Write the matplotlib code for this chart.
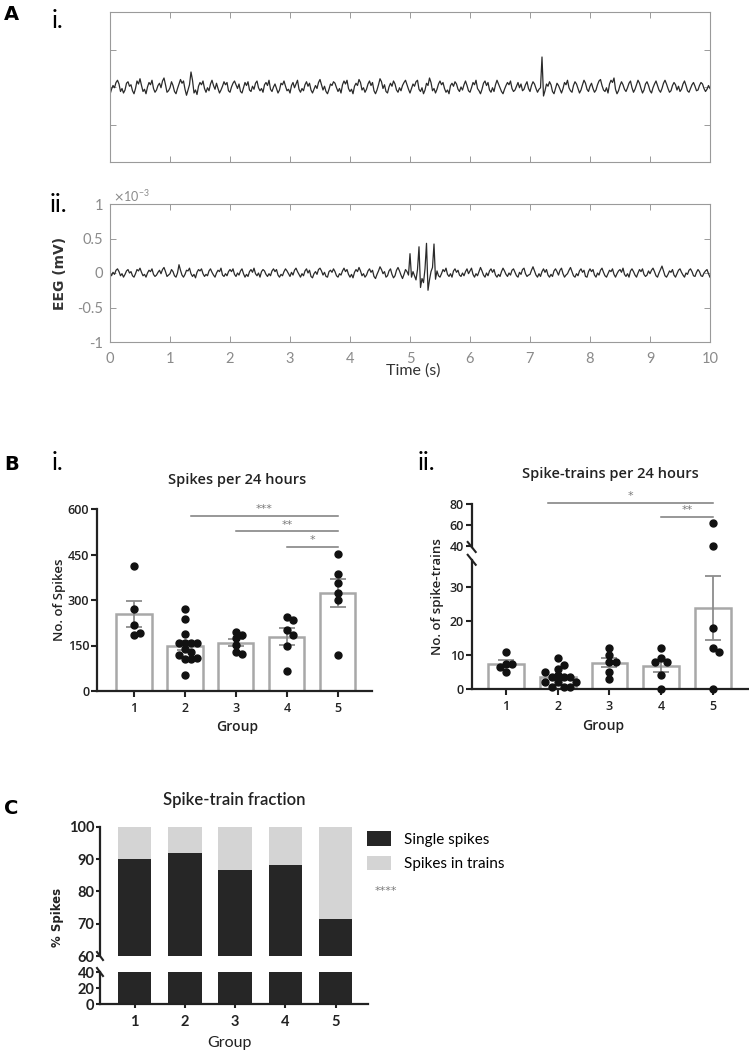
import numpy as np
import matplotlib
matplotlib.use("Agg")
import matplotlib.pyplot as plt
from matplotlib.patches import Patch

# ---------------- data ----------------
eeg_step = 0.025  # seconds per sample
# EEG traces, amplitude in units of 0.01 x 1e-3 mV
trace_i = [
    -10, -3, 2, -1, 6, 9, 4, -6, -2, -8, -4, 5, 7, 1, 3, -5, -9, -2, 8, 4,
    11, 2, -6, -3, -9, 0, 6, 3, 9, -2, -7, -4, 2, 5, -1, 8, 12, 3, -7, -5,
    -1, 7, 2, -6, -9, -2, 4, 10, 5, 8, -3, -11, -4, 3, 20, 9, -8, -4, -10, 1,
    6, 3, 8, -2, -7, -1, -5, 4, 9, 2, -3, 5, -2, -8, -4, 1, 7, 3, 6, -5,
    -7, 0, 5, 8, 3, -2, 4, -6, -8, -1, 6, 2, 7, -4, -6, 1, -3, 5, 8, -1,
    -5, -2, -7, 3, 6, 2, 9, -3, -6, 0, 4, -2, -8, -4, 5, 3, 8, 1, -5, -3,
    -8, 2, 6, -1, 4, 9, -3, -7, -2, -5, 3, 7, 1, 5, -4, -8, -3, 2, -2, 6,
    10, 3, -4, 1, -6, -9, -3, 4, 2, 7, 5, -1, -6, -2, -8, 3, 8, 4, 9, -2,
    -6, -3, -9, 1, 5, 2, 10, 6, -4, -1, -7, -3, 4, 8, 2, 6, -5, -9, -4, 3,
    11, 7, -2, 3, -6, -8, 0, 5, 1, 8, 4, -4, -7, -1, -5, 2, 6, 9, 3, -3,
    -8, -2, 4, 1, 7, 9, -3, -6, -1, -9, -4, 5, 2, 12, 6, -5, -2, -8, -3, 4,
    8, 3, 6, -2, -7, -4, -9, 2, 5, 1, 7, 4, -3, -6, 0, -4, 3, 8, 2, -5,
    -7, -1, 6, 3, 9, -2, -5, -9, -3, 5, 8, 2, 6, -4, -7, -1, -6, 3, 9, 4,
    -1, -6, -9, -3, 2, 6, 3, 8, -2, -6, -4, 1, 6, -1, 4, -5, -3, 3, 7, -2,
    -6, 2, 7, 4, -2, -7, -3, -1, 40, -12, -5, 4, 1, 7, 3, -6, -9, -2, 5, 2,
    -3, -8, -2, 6, 3, 9, -1, -5, -7, 2, 7, 4, -2, -8, -4, 3, 9, 5, -3, -6,
    1, 5, -2, -7, -4, 3, 8, 10, 2, -4, -6, -1, -8, 4, 9, 6, 12, -3, -9, -5,
    2, 7, 3, -3, -6, -1, 5, 8, -1, -7, -3, 3, 9, 5, -2, -8, -4, 4, 7, 2,
    -5, -8, -1, 4, 8, 2, -4, -7, -2, 5, 9, 4, -2, -7, -5, 2, 6, 3, -4, 1,
    -6, -3, 4, 8, 2, -5, -7, -2, 3, 6, 1, -5, -4, 2, 6, 4, -2, -6, -3, 2,
    -2,
]
trace_ii = [
    0, -4, 1, -2, 4, 6, 2, -4, -1, -6, -2, 3, 5, 0, 2, -4, -6, -1, 5, 3,
    7, 1, -4, -2, -6, 0, 4, 2, 6, -2, -5, -3, 1, 4, -1, 5, 8, 2, -5, -3,
    -1, 5, 2, -4, -6, 0, 12, 4, -3, -6, -2, 4, 3, 7, -1, -5, -2, -7, 1, 5,
    3, 6, -1, -5, -2, -4, 3, 6, 1, -3, -6, 0, 4, 2, 7, -3, -5, -1, -4, 2,
    5, 2, 6, -2, -5, 0, -3, 3, 6, -1, -6, -2, -5, 2, 5, 1, 7, -1, -4, 0,
    -6, 2, 5, 3, -2, -5, -1, -4, 3, 6, 2, 5, -3, -6, -2, -4, 2, 6, 3, -1,
    -5, 1, -3, 4, 7, 2, -2, -6, -1, -4, 3, 6, 0, 4, -5, -7, -1, 2, -2, 5,
    7, 3, -3, 1, -5, -6, 2, 4, 1, 6, 2, -4, -6, -1, -3, 3, 7, 2, 5, -2,
    -6, -2, -7, 1, 5, 2, 8, 3, -4, -1, -6, -3, 3, 6, 1, 4, -5, -8, -2, 3,
    9, 5, -1, 2, -6, -4, 3, 6, -2, -7, -4, 4, 8, 3, -3, -8, -2, 5, 2, -3,
    28, -6, 2, -4, -10, 5, 38, -21, -8, -14, 6, 43, -25, -10, 2, 8, 42, -9, 3, -4,
    -6, -1, 5, 2, 7, -2, -5, -1, -6, 3, 6, 1, 4, -3, -5, 0, -4, 2, 6, -1,
    3, 7, -2, -6, -1, -4, 2, 8, 3, -3, -6, 0, -4, 3, 6, 1, 5, -3, -6, -2,
    -5, 2, 7, 3, -2, -5, 0, -3, 4, 6, 1, -4, -6, 1, -2, 5, 7, -1, -5, -3,
    -2, 4, 9, 3, -3, -6, -1, -5, 2, 6, 1, 5, -3, -6, -2, -5, 3, 6, 2, -3,
    4, 7, -1, -6, -3, -1, 4, 8, 2, -4, -6, -1, -4, 3, 6, 1, 4, -5, -6, 2,
    6, 2, 5, -3, -6, 0, -3, 4, 7, 1, -4, -6, -1, 4, 2, 6, -2, -6, -1, 3,
    5, 1, 7, -2, -5, -1, -6, 3, 6, 2, -3, -6, 0, 5, 2, 6, -2, -5, -3, 3,
    -1, 4, 7, 2, -4, -6, 0, 5, 10, 3, -4, -6, -2, 3, 1, 5, -3, -6, -1, 4,
    6, 1, -3, -6, 0, -2, 4, 6, 2, -4, -5, 1, 5, 2, -4, -5, 0, 3, 5, -1,
    -6,
]

groups = [1, 2, 3, 4, 5]
spikes_pts = [
    [412, 269, 217, 184, 190],
    [269, 239, 187, 157, 157, 157, 157, 138, 127, 120, 107, 107, 110, 52],
    [195, 186, 176, 151, 129, 121],
    [243, 234, 200, 186, 148, 66],
    [452, 386, 355, 324, 300, 118],
]
trains_pts = [
    [11, 7.5, 7.5, 6.5, 5],
    [9, 6, 7, 4, 3.6, 3.6, 3.6, 5, 2.2, 2.2, 2.2, 0.5, 0.5, 0.5],
    [12, 8, 8, 10, 3, 5],
    [12, 9, 8, 8, 4, 0],
    [62, 40, 18, 12, 11, 0],
]
single_pct = [90.1, 92.0, 86.5, 88.1, 71.3]
trains_pct = [100 - v for v in single_pct]

# significance annotations: (from group, to group, level, label)
sig_spikes = [(2.12, 5, 576, '***'), (3, 5, 526, '**'), (4, 5, 476, '*')]
sig_trains = [(1.81, 5, 80.7, '*'), (4, 5, 67.9, '**')]

# ---------------- styling ----------------
W, H = 749, 1050
DARK = '#222222'
BAR_EDGE = '#a8a8a8'
ERR = '#8c8c8c'
SIG = '#7a7a7a'
NARROW = ['Lato', 'DejaVu Sans']
OPEN = ['Open Sans', 'DejaVu Sans']

plt.rcParams['font.family'] = OPEN

fig = plt.figure(figsize=(W / 100, H / 100), dpi=100)


def rect(x0, y0, x1, y1):
    return [x0 / W, 1 - y1 / H, (x1 - x0) / W, (y1 - y0) / H]


def ftext(x, y, s, **kw):
    fig.text(x / W, 1 - y / H, s, **kw)


def swarm(vals, ysize, xstep=0.12):
    placed = []
    offs = []
    for v in vals:
        k = 0
        pos = None
        while pos is None:
            cands = [0.0] if k == 0 else [k * xstep, -k * xstep]
            for c in cands:
                if all(((c - px) / xstep) ** 2 + ((v - py) / ysize) ** 2 >= 0.9
                       for px, py in placed):
                    pos = c
                    break
            k += 1
        placed.append((pos, v))
        offs.append(pos)
    return np.array(offs)


def break_mark(ax, yfrac, w=4.0, h=5.0):
    bb = ax.get_position()
    dx = w / (bb.width * W)
    dy = h / (bb.height * H)
    ax.plot([-dx, dx], [yfrac + dy, yfrac - dy], transform=ax.transAxes,
            color=DARK, lw=1.5, clip_on=False)


def prism_axes(ax, bottom=True):
    for s in ['top', 'right']:
        ax.spines[s].set_visible(False)
    ax.spines['left'].set_color(DARK)
    ax.spines['left'].set_linewidth(1.6)
    if bottom:
        ax.spines['bottom'].set_color(DARK)
        ax.spines['bottom'].set_linewidth(1.6)
    else:
        ax.spines['bottom'].set_visible(False)
        ax.tick_params(axis='x', bottom=False, labelbottom=False)
    ax.tick_params(direction='out', length=4, width=1.5, color=DARK,
                   labelcolor=DARK, labelsize=9, pad=1.5)
    ax.tick_params(axis='x', pad=4)
    ax.set_facecolor('none')


# ---------------- panel A ----------------
def eeg_axes(box, trace, labels):
    ax = fig.add_axes(rect(*box))
    t = np.arange(len(trace)) * eeg_step
    ax.plot(t, np.array(trace) * 0.01, color='#2a2a2a', lw=0.9)
    ax.set_xlim(0, 10)
    ax.set_ylim(-1, 1)
    ax.set_xticks(range(11))
    ax.set_yticks([-1, -0.5, 0, 0.5, 1])
    ax.tick_params(direction='in', top=True, right=True, length=4, width=0.6,
                   colors='#8a8a8a', labelsize=10.5)
    ax.tick_params(axis='x', pad=7)
    ax.tick_params(axis='y', pad=5)
    for s in ax.spines.values():
        s.set_color('#9a9a9a')
        s.set_linewidth(0.8)
    if labels:
        ax.set_xticklabels([str(v) for v in range(11)], fontfamily=NARROW)
        ax.set_yticklabels(['-1', '-0.5', '0', '0.5', '1'], fontfamily=NARROW)
    else:
        ax.tick_params(labelbottom=False, labelleft=False)
    return ax


ax_a1 = eeg_axes((110, 12, 710, 162), trace_i, False)
ax_a2 = eeg_axes((110, 204, 710, 342), trace_ii, True)
ftext(113, 196, r'$\times\mathregular{10^{-3}}$', color='#8a8a8a', fontsize=9,
      va='center', fontfamily=NARROW)
ftext(413, 371, 'Time (s)', color='#333333', fontsize=11.5, ha='center', va='center',
      fontfamily=NARROW)
ftext(60, 273, 'EEG (mV)', color='#333333', fontsize=10, ha='center', va='center',
      rotation=90, fontweight='bold', fontfamily=['DejaVu Sans'])

ftext(4, 15, 'A', fontsize=14, fontweight='bold', va='center', fontfamily=['DejaVu Sans'])
ftext(52, 20, 'i.', fontsize=18, va='center', fontfamily=NARROW)
ftext(50, 205, 'ii.', fontsize=18, va='center', fontfamily=NARROW)

# ---------------- panel B i ----------------
axb1 = fig.add_axes(rect(97, 509, 372, 691))
prism_axes(axb1)
means = [np.mean(p) for p in spikes_pts]
sems = [np.std(p, ddof=1) / np.sqrt(len(p)) for p in spikes_pts]
axb1.bar(groups, means, width=0.69, color='white', edgecolor=BAR_EDGE, lw=1.8, zorder=1)
axb1.errorbar(groups, means, yerr=sems, fmt='none', ecolor=ERR, elinewidth=1.3,
              capsize=6, capthick=1.3, zorder=2)
for g, pts in zip(groups, spikes_pts):
    axb1.plot(g + swarm(pts, 20), pts, 'o', color='#111111', ms=5, zorder=3, clip_on=False)
for x0, x1, y, lab in sig_spikes:
    axb1.plot([x0, x1], [y, y], color=SIG, lw=1.1, clip_on=False)
    axb1.text((x0 + x1) / 2, y + 6, lab, color=SIG, fontsize=8, ha='center', va='bottom',
              fontfamily=['DejaVu Sans'])
axb1.set_xlim(0.275, 5.67)
axb1.set_ylim(0, 600)
axb1.set_yticks([0, 150, 300, 450, 600])
axb1.set_xticks(groups)
axb1.set_yticklabels(['0', '150', '300', '450', '600'], fontweight='semibold')
axb1.set_xticklabels([str(g) for g in groups], fontweight='semibold')
ftext(237, 480, 'Spikes per 24 hours', fontsize=10.5, fontweight='semibold', ha='center',
      va='center', color=DARK)
ftext(60, 600, 'No. of Spikes', fontsize=9.5, fontweight='semibold', ha='center',
      va='center', rotation=90, color=DARK)
ftext(237, 727, 'Group', fontsize=10, fontweight='semibold', ha='center', va='center',
      color=DARK)

# ---------------- panel B ii ----------------
t_means = [np.mean(p) for p in trains_pts]
t_sems = [np.std(p, ddof=1) / np.sqrt(len(p)) for p in trains_pts]
axb2u = fig.add_axes(rect(471.7, 504, 748, 547))
axb2l = fig.add_axes(rect(471.7, 559.8, 748, 689))
prism_axes(axb2u, bottom=False)
prism_axes(axb2l)
for ax in (axb2u, axb2l):
    ax.bar(groups, t_means, width=0.69, color='white', edgecolor=BAR_EDGE, lw=1.8, zorder=1)
    ax.errorbar(groups, t_means, yerr=t_sems, fmt='none', ecolor=ERR, elinewidth=1.3,
                capsize=6, capthick=1.3, zorder=2)
    ax.set_xlim(0.336, 5.68)
axb2u.set_ylim(39, 80)
axb2l.set_ylim(0, 38)
for g, pts in zip(groups, trains_pts):
    pts = np.array(pts)
    offs = swarm(pts, 1.8)
    lo = pts <= 38
    axb2l.plot(g + offs[lo], pts[lo], 'o', color='#111111', ms=5, zorder=3, clip_on=False)
    axb2u.plot(g + offs[~lo], pts[~lo], 'o', color='#111111', ms=5, zorder=3, clip_on=False)
for x0, x1, y, lab in sig_trains:
    axb2u.plot([x0, x1], [y, y], color=SIG, lw=1.1, clip_on=False)
    axb2u.text((x0 + x1) / 2, y + 2, lab, color=SIG, fontsize=8, ha='center', va='bottom',
               fontfamily=['DejaVu Sans'], clip_on=False)
axb2u.set_yticks([40, 60, 80])
axb2u.set_yticklabels(['40', '60', '80'], fontweight='semibold')
axb2l.set_yticks([0, 10, 20, 30])
axb2l.set_yticklabels(['0', '10', '20', '30'], fontweight='semibold')
axb2l.set_xticks(groups)
axb2l.set_xticklabels([str(g) for g in groups], fontweight='semibold')
break_mark(axb2u, 0.0)
break_mark(axb2l, 1.0)
ftext(610, 474, 'Spike-trains per 24 hours', fontsize=10.5, fontweight='semibold',
      ha='center', va='center', color=DARK)
ftext(438, 597, 'No. of spike-trains', fontsize=9.5, fontweight='semibold', ha='center',
      va='center', rotation=90, color=DARK)
ftext(603, 726, 'Group', fontsize=10, fontweight='semibold', ha='center', va='center',
      color=DARK)

ftext(4, 465, 'B', fontsize=14, fontweight='bold', va='center', fontfamily=['DejaVu Sans'])
ftext(52, 463, 'i.', fontsize=18, va='center', fontfamily=NARROW)
ftext(418, 463, 'ii.', fontsize=18, va='center', fontfamily=NARROW)

# ---------------- panel C ----------------
SINGLE_C = '#262626'
TRAIN_C = '#d4d4d4'
axcu = fig.add_axes(rect(100, 826.7, 368, 956))
axcl = fig.add_axes(rect(100, 972, 368, 1004))
prism_axes(axcu, bottom=False)
prism_axes(axcl)
for ax in (axcu, axcl):
    ax.bar(groups, single_pct, width=0.67, color=SINGLE_C, zorder=1)
    ax.bar(groups, trains_pct, bottom=single_pct, width=0.67, color=TRAIN_C, zorder=1)
    ax.set_xlim(0.31, 5.645)
    ax.tick_params(labelsize=10.5, length=3, pad=1)
axcu.set_ylim(60, 100)
axcl.set_ylim(0, 40)
axcu.set_yticks([60, 70, 80, 90, 100])
axcu.set_yticklabels(['60', '70', '80', '90', '100'], fontfamily=NARROW, fontweight='bold')
axcl.set_yticks([0, 20, 40])
axcl.set_yticklabels(['0', '20', '40'], fontfamily=NARROW, fontweight='bold')
axcl.set_xticks(groups)
axcl.set_xticklabels([str(g) for g in groups], fontfamily=NARROW, fontweight='bold')
axcl.tick_params(axis='x', pad=5)
break_mark(axcu, 0.0, w=3.0, h=4.0)
break_mark(axcl, 1.0, w=3.0, h=4.0)
fig.legend([Patch(facecolor=SINGLE_C), Patch(facecolor=TRAIN_C)],
           ['Single spikes', 'Spikes in trains'], loc='upper left',
           bbox_to_anchor=(367 / W, 1 - 831 / H), frameon=False,
           handlelength=1.6, handleheight=1.1, handletextpad=0.8, labelspacing=0.6,
           borderpad=0, borderaxespad=0, prop={'family': NARROW, 'size': 11})
ftext(375, 891, '****', color=SIG, fontsize=8, va='center', fontfamily=['DejaVu Sans'])
ftext(234, 800, 'Spike-train fraction', fontsize=12, fontweight='semibold', ha='center',
      va='center', color=DARK, fontfamily=NARROW)
ftext(58, 917, '% Spikes', fontsize=8.5, fontweight='bold', ha='center', va='center',
      rotation=90, color=DARK, fontfamily=['DejaVu Sans'])
ftext(230, 1043, 'Group', fontsize=11.5, ha='center', va='center', color=DARK,
      fontfamily=NARROW)
ftext(4, 808, 'C', fontsize=14, fontweight='bold', va='center', fontfamily=['DejaVu Sans'])

fig.savefig('out.png', dpi=100)
